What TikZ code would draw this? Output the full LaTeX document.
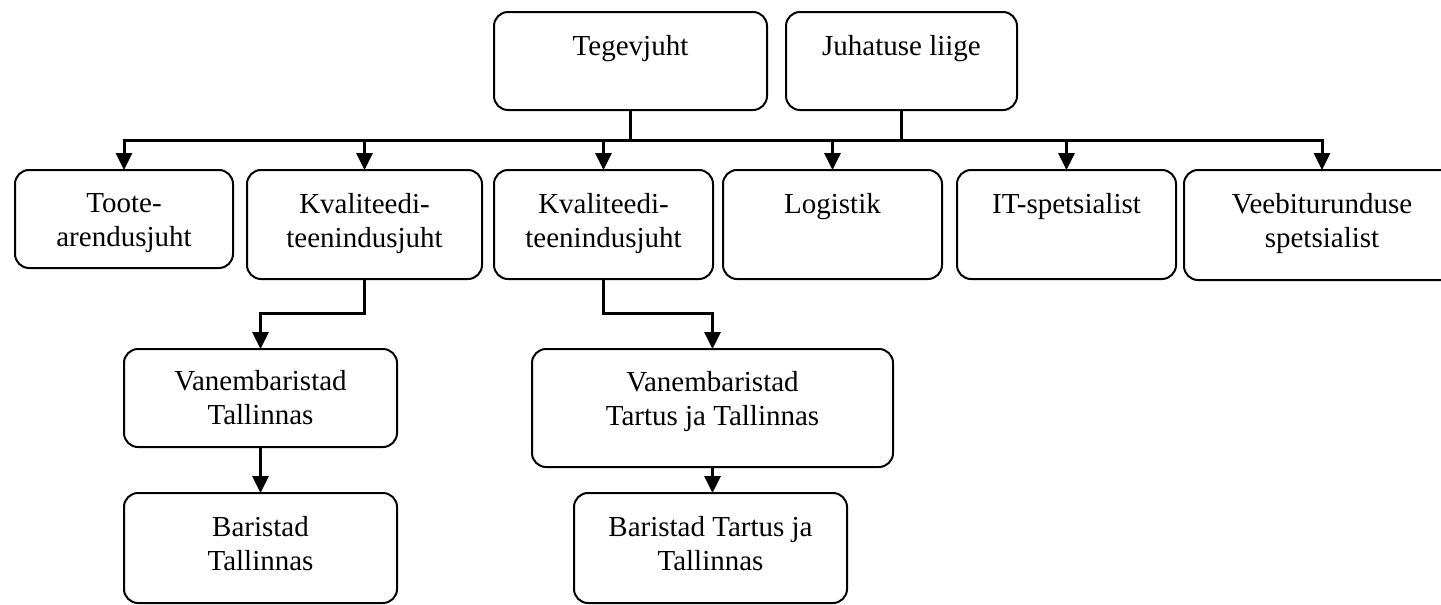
\documentclass[tikz,border=0pt]{standalone}
\usepackage{fontspec}
\setmainfont{Liberation Serif}
\usetikzlibrary{arrows.meta}
\begin{document}
\begin{tikzpicture}[x=0.5pt,y=-0.5pt,
  box/.style={draw, line width=1pt, rounded corners=7pt, inner sep=0pt, outer sep=0pt, anchor=north west},
  txt/.style={font=\fontsize{14.5}{17}\selectfont, align=center, inner sep=0pt, anchor=base},
  conn/.style={line width=1.5pt},
  arr/.style={conn, -{Triangle[length=8.5pt,width=8pt]}}]
\useasboundingbox (0,0) rectangle (1441,605);
\clip (0,0) rectangle (1441,605);

% management
\node[box, minimum width=136.5pt, minimum height=49pt] (tj) at (494,12) {};
\node[box, minimum width=115.5pt, minimum height=49pt] (juh) at (786,12) {};

% second level
\node[box, minimum width=109pt, minimum height=49pt] (toote) at (15,170) {};
\node[box, minimum width=117.5pt, minimum height=54.5pt] (kv1) at (247,170) {};
\node[box, minimum width=109.5pt, minimum height=54.5pt] (kv2) at (494,170) {};
\node[box, minimum width=109.5pt, minimum height=54.5pt] (log) at (723,170) {};
\node[box, minimum width=109.5pt, minimum height=54.5pt] (it) at (957,170) {};
\node[box, minimum width=138pt, minimum height=55pt] (veeb) at (1184,170) {};

% baristas
\node[box, minimum width=136.5pt, minimum height=49pt] (vt) at (124,349) {};
\node[box, minimum width=136.5pt, minimum height=55pt] (bt) at (124,493) {};
\node[box, minimum width=180.5pt, minimum height=59pt] (vtt) at (532,349) {};
\node[box, minimum width=136.5pt, minimum height=55pt] (btt) at (574,493) {};

% labels (the base anchor of a two-line label sits on its second line)
\node[txt] (tj-t) at ([yshift=-21.5pt]tj.north) {Tegevjuht};
\node[txt] (juh-t) at ([yshift=-21.5pt]juh.north) {Juhatuse liige};
\node[txt] (toote-t) at ([yshift=-38pt]toote.north) {Toote-\\arendusjuht};
\node[txt] (kv1-t) at ([yshift=-38.5pt]kv1.north) {Kvaliteedi-\\teenindusjuht};
\node[txt] (kv2-t) at ([yshift=-38.5pt]kv2.north) {Kvaliteedi-\\teenindusjuht};
\node[txt] (log-t) at ([yshift=-21.5pt]log.north) {Logistik};
\node[txt] (it-t) at ([yshift=-21.5pt]it.north) {IT-spetsialist};
\node[txt] (veeb-t) at ([yshift=-38.5pt]veeb.north) {Veebiturunduse\\spetsialist};
\node[txt] (vt-t) at ([yshift=-37.5pt]vt.north) {Vanembaristad\\Tallinnas};
\node[txt] (bt-t) at ([yshift=-38.5pt]bt.north) {Baristad\\Tallinnas};
\node[txt] (vtt-t) at ([yshift=-38pt]vtt.north) {Vanembaristad\\Tartus ja Tallinnas};
\node[txt] (btt-t) at ([yshift=-38.5pt]btt.north) {Baristad Tartus ja\\Tallinnas};

% distribution bar
\coordinate (tjb) at ([yshift=-15pt]tj.south);
\coordinate (juhb) at (juh.south |- tjb);
\draw[conn] (tj.south) -- (tjb) -- (juhb) -- (juh.south);
\draw[arr] (tjb) -| (toote.north);
\draw[arr] (tjb) -| (kv1.north);
\draw[arr] (tjb) -| (kv2.north);
\draw[arr] (juhb) -| (log.north);
\draw[arr] (juhb) -| (it.north);
\draw[arr] (juhb) -| (veeb.north);

% lower levels
\draw[arr] (kv1.south) -- ++(0,34) -| (vt.north);
\draw[arr] (kv2.south) -- ++(0,34) -| (vtt.north);
\draw[arr] (vt.south) -- (bt.north);
\draw[arr] (vtt.south) -- (vtt.south |- btt.north);
\end{tikzpicture}
\end{document}
